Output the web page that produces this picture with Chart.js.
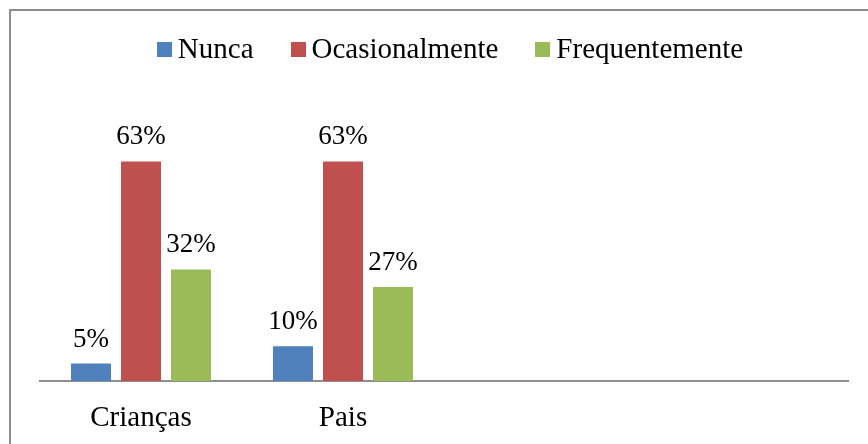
<!DOCTYPE html>
<html>
<head>
<meta charset="utf-8">
<script src="https://cdn.jsdelivr.net/npm/chart.js@4.4.1/dist/chart.umd.min.js"></script>
<style>
  html, body { margin: 0; padding: 0; width: 868px; height: 444px; overflow: hidden; background: #fff; }
  #frame { position: absolute; left: 9px; top: 9px; width: 1000px; height: 1000px; border: 2px solid #8e8e8e; box-sizing: border-box; pointer-events: none; }
  #wrap { position: absolute; left: 0; top: 0; width: 868px; height: 444px; }
  #legend { position: absolute; left: 10px; top: 34px; width: 880px; display: flex; justify-content: center; align-items: baseline;
            font-family: "Liberation Serif", "Times New Roman", serif; font-size: 29px; line-height: 29px; color: #000; white-space: nowrap; }
  .item { display: flex; align-items: baseline; margin: 0 18.5px; }
  .box { width: 15px; height: 15px; margin-right: 6px; position: relative; top: -1px; }
</style>
</head>
<body>
<div id="wrap"><canvas id="c" width="868" height="444"></canvas></div>
<div id="legend"></div>
<div id="frame"></div>
<script>
const categories = ['Crianças', 'Pais', '', ''];
const seriesNames = ['Nunca', 'Ocasionalmente', 'Frequentemente'];
const nunca = [5, 10, null, null];
const ocasionalmente = [63, 63, null, null];
const frequentemente = [32, 27, null, null];
const colors = ['#4F81BD', '#C0504D', '#9BBB59'];

const seriesValues = [nunca, ocasionalmente, frequentemente];

// HTML legend built from the series names
const legendEl = document.getElementById('legend');
seriesNames.forEach((name, i) => {
  const it = document.createElement('div');
  it.className = 'item';
  const b = document.createElement('span');
  b.className = 'box';
  b.style.background = colors[i];
  const t = document.createElement('span');
  t.textContent = name;
  it.appendChild(b); it.appendChild(t);
  legendEl.appendChild(it);
});

const dataLabels = {
  id: 'dataLabels',
  afterDatasetsDraw(chart) {
    const ctx = chart.ctx;
    ctx.save();
    ctx.font = '27px "Liberation Serif", "Times New Roman", serif';
    ctx.fillStyle = '#000';
    ctx.textAlign = 'center';
    ctx.textBaseline = 'alphabetic';
    chart.data.datasets.forEach((ds, di) => {
      const meta = chart.getDatasetMeta(di);
      meta.data.forEach((el, idx) => {
        const v = ds.data[idx];
        if (v === null || v === undefined) return;
        ctx.fillText(v + '%', el.x, el.y - 17);
      });
    });
    ctx.restore();
  }
};

new Chart(document.getElementById('c'), {
  type: 'bar',
  data: {
    labels: categories,
    datasets: seriesNames.map((name, i) => ({
      label: name,
      data: seriesValues[i],
      backgroundColor: colors[i],
      borderWidth: 0,
      categoryPercentage: 0.7426,
      barPercentage: 0.8
    }))
  },
  options: {
    responsive: false,
    animation: false,
    devicePixelRatio: 1,
    layout: { padding: { left: 40, right: 20, top: 137, bottom: 0 } },
    plugins: { legend: { display: false }, tooltip: { enabled: false } },
    scales: {
      x: {
        afterFit(scale) { scale.height = 63; },
        grid: { display: false, drawTicks: false },
        border: { display: true, color: '#8e8e8e', width: 2 },
        ticks: { color: '#000', padding: 19.5, font: { family: '"Liberation Serif", "Times New Roman", serif', size: 29 }, maxRotation: 0, autoSkip: false }
      },
      y: {
        display: false,
        min: 0,
        max: 70
      }
    }
  },
  plugins: [dataLabels]
});
</script>
</body>
</html>
